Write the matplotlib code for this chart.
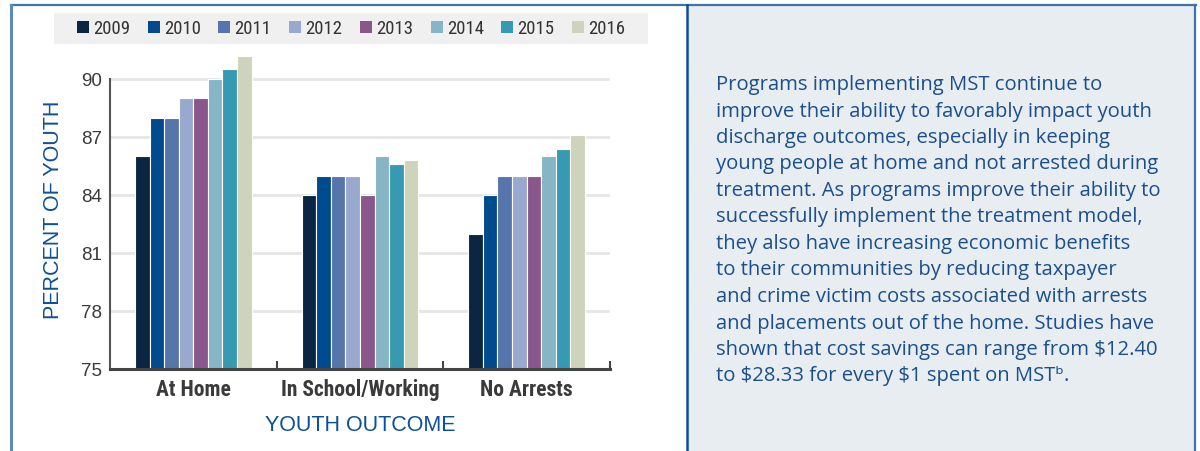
import matplotlib
matplotlib.use("Agg")
import matplotlib.pyplot as plt
from matplotlib import font_manager
from matplotlib.patches import Rectangle, Patch
from matplotlib.lines import Line2D
import numpy as np

categories = ["At Home", "In School/Working", "No Arrests"]
years = ["2009", "2010", "2011", "2012", "2013", "2014", "2015", "2016"]
v2009 = [86.0, 84.0, 82.0]
v2010 = [88.0, 85.0, 84.0]
v2011 = [88.0, 85.0, 85.0]
v2012 = [89.0, 85.0, 85.0]
v2013 = [89.0, 84.0, 85.0]
v2014 = [90.0, 86.0, 86.0]
v2015 = [90.5, 85.6, 86.4]
v2016 = [91.2, 85.8, 87.1]
series = [v2009, v2010, v2011, v2012, v2013, v2014, v2015, v2016]
colors = ["#0a2642", "#004b8d", "#5675ab", "#98a8cf", "#8a578c",
          "#86b5c6", "#369bb2", "#ced3bb"]
yticks = [75, 78, 81, 84, 87, 90]

body_lines = [
    "Programs implementing MST continue to",
    "improve their ability to favorably impact youth",
    "discharge outcomes, especially in keeping",
    "young people at home and not arrested during",
    "treatment. As programs improve their ability to",
    "successfully implement the treatment model,",
    "they also have increasing economic benefits",
    "to their communities by reducing taxpayer",
    "and crime victim costs associated with arrests",
    "and placements out of the home. Studies have",
    "shown that cost savings can range from $12.40",
    "to $28.33 for every $1 spent on MST\u1d47.",
]

avail = {f.name for f in font_manager.fontManager.ttflist}
def pick(*names):
    for n in names:
        if n in avail:
            return n
    return "DejaVu Sans"
narrow = pick("Liberation Sans Narrow", "DejaVu Sans Condensed", "Roboto Condensed", "Liberation Sans")
sans = pick("Liberation Sans", "DejaVu Sans")
body = pick("Open Sans", "Lato", "DejaVu Sans")

W, H = 1200, 451
fig = plt.figure(figsize=(W / 100, H / 100), dpi=100)
fig.patch.set_facecolor("white")

def fx(px):
    return px / W
def fy(py):
    return 1 - py / H

# right panel background
fig.patches.append(Rectangle((fx(687), 0), fx(1196) - fx(687), fy(5), transform=fig.transFigure,
                             facecolor="#e8edf2", edgecolor="none", zorder=0))
# borders
fig.lines.append(Line2D([fx(11), fx(1196)], [fy(5), fy(5)], transform=fig.transFigure,
                        color="#3d74b0", lw=1.6))
fig.lines.append(Line2D([fx(11), fx(11)], [0, fy(5)], transform=fig.transFigure,
                        color="#5b8bbd", lw=2.2))
fig.lines.append(Line2D([fx(687), fx(687)], [0, fy(5)], transform=fig.transFigure,
                        color="#0b4f9c", lw=1.8))
fig.lines.append(Line2D([fx(1195), fx(1195)], [0, fy(5)], transform=fig.transFigure,
                        color="#3d74b0", lw=1.6))

# legend background
fig.patches.append(Rectangle((fx(54), fy(44)), fx(648) - fx(54), fy(13) - fy(44),
                             transform=fig.transFigure, facecolor="#f0f0f0",
                             edgecolor="none", zorder=0))

ax = fig.add_axes([fx(110), fy(369), fx(610) - fx(110), fy(50) - fy(369)])
ax.set_facecolor("none")
x = np.arange(len(categories))
n = len(series)
bw = 0.7 / n
for i, (vals, c) in enumerate(zip(series, colors)):
    ax.bar(x - 0.35 + bw * (i + 0.5), np.array(vals) - 75, bottom=75, width=bw,
           color=c, edgecolor="white", linewidth=0.8, zorder=3, label=years[i])

ax.set_xlim(-0.5, 2.5)
ax.set_ylim(75, 91.5)
ax.set_yticks(yticks)
ax.set_yticklabels([str(t) for t in yticks], fontsize=13.5, color="#3a3a3a", family=sans)
ax.tick_params(axis="y", length=0, pad=6)
for t in yticks[1:]:
    ax.axhline(t, color="#e6e6e6", lw=2, zorder=1)
ax.spines["top"].set_visible(False)
ax.spines["right"].set_visible(False)
ax.spines["left"].set_bounds(75, 90)
ax.spines["left"].set_color("#555555")
ax.spines["left"].set_linewidth(1.5)
ax.spines["bottom"].set_color("#444444")
ax.spines["bottom"].set_linewidth(2.2)
ax.spines["bottom"].set_zorder(5)

ax.set_xticks([0.5, 1.5, 2.5])
ax.set_xticklabels([])
ax.tick_params(axis="x", direction="in", length=6, width=1.5, color="#444444")
ax.set_xticks(x, minor=True)
ax.set_xticklabels(categories, minor=True, fontsize=15.5, fontweight="bold",
                   color="#3a3a3a", family=narrow)
ax.tick_params(axis="x", which="minor", length=0, pad=7)

ax.set_ylabel("PERCENT OF YOUTH", fontsize=15.5, color="#0b509a", family=sans, labelpad=12)
ax.set_xlabel("YOUTH OUTCOME", fontsize=15.5, color="#0b509a", family=sans, labelpad=10)

handles = [Patch(facecolor=c, edgecolor="none") for c in colors]
fig.legend(handles, years, loc="center", bbox_to_anchor=(fx(351), fy(28.5)), ncol=8,
           frameon=False, handlelength=0.65, handleheight=0.65, handletextpad=0.22,
           columnspacing=0.93, prop={"family": narrow, "size": 13.5},
           labelcolor="#333333", borderaxespad=0, borderpad=0)

for i, line in enumerate(body_lines):
    fig.text(fx(716), fy(85 + i * 26.5), line, fontsize=14.6, color="#1b4f8c",
             family=[body, "DejaVu Sans"], va="center", ha="left", parse_math=False)

fig.savefig("out.png", dpi=100)
